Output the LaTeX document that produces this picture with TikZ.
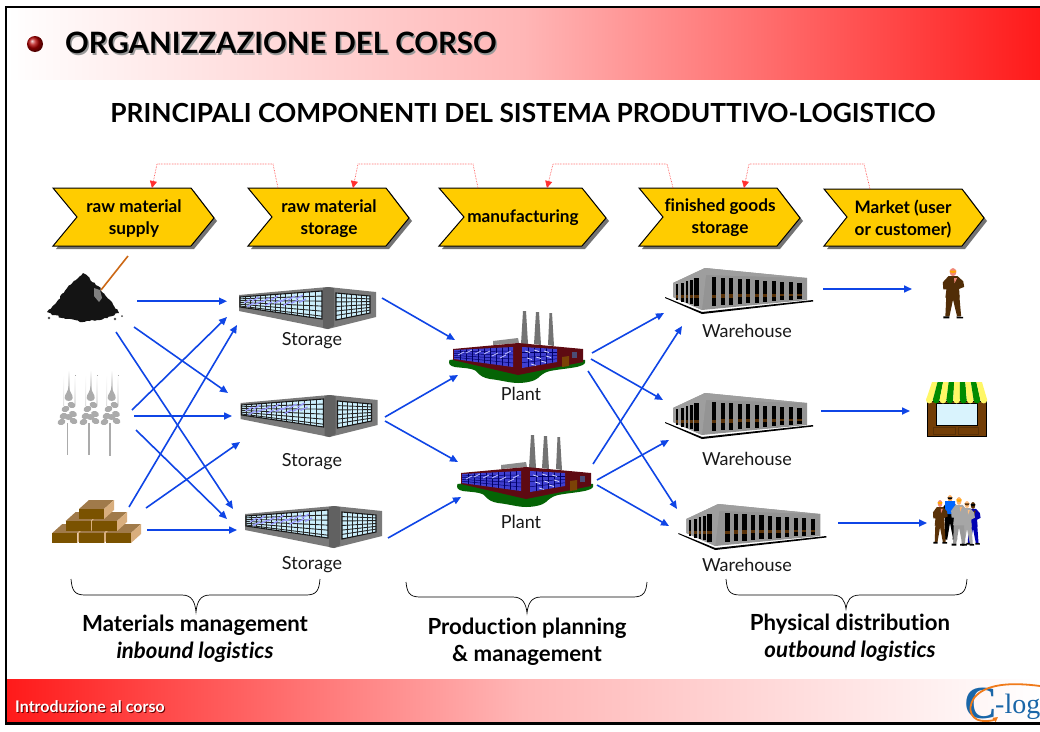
\documentclass[tikz,border=0pt]{standalone}
\usepackage{fontspec}
\setmainfont{Lato}[Ligatures=NoCommon]
\usetikzlibrary{arrows.meta,shadings,decorations.pathmorphing}
\definecolor{flowblue}{HTML}{0F45E6}
\definecolor{chev}{HTML}{FFCC00}
\definecolor{hred}{HTML}{FF1A1A}
\definecolor{hmid}{HTML}{FFB6B6}
\definecolor{linkred}{HTML}{FF3030}
\definecolor{maroon}{HTML}{5E0A12}
\definecolor{wbrown}{HTML}{5A3208}
\definecolor{logoblue}{HTML}{1A66A8}
\definecolor{logoorange}{HTML}{F07A1A}
\definecolor{brickfront}{HTML}{7A5200}
\definecolor{bricktop}{HTML}{A07A4A}
\definecolor{brickside}{HTML}{D9AE7D}
\definecolor{facepink}{HTML}{F08878}
\definecolor{plantgreen}{HTML}{056405}
\definecolor{planeblue}{HTML}{3F3FD0}
\tikzset{
  flow/.style={draw=flowblue,line width=1.6pt,-{Triangle[length=8pt,width=7pt]}},
  link/.style={draw=linkred,line width=.6pt,densely dotted,-{Triangle[length=7pt,width=7pt]}},
  chevbox/.style={fill=chev,draw=black,line width=1pt,line join=miter},
  chevshadow/.style={fill=black!55},
  chevtext/.style={font=\fontsize{17.2}{22}\selectfont\bfseries,align=center,text=black,inner sep=0pt},
  iconlabel/.style={font=\fontsize{18}{20}\selectfont,text=black!90,inner sep=0pt},
  grouplabel/.style={font=\fontsize{22.2}{27}\selectfont\bfseries,align=center,inner sep=0pt},
  bracepath/.style={draw=black,line width=.7pt},
}
\def\figw{1}
% storage building, coordinates of the first one
\newcommand{\storagebldg}[2]{%
\begin{scope}[shift={(#1,#2)}]
  \fill[black!52] (239,295)--(328,287)--(376,292)--(376,317)--(328,329)--(239,311)--cycle;
  \fill[black!62] (323,288)--(328,287)--(334,288)--(334,326)--(328,329)--(323,328)--cycle;
  \begin{scope}
    \clip (240,297)--(322,291)--(322,319)--(240,307)--cycle;
    \fill[cyan!20] (238,285) rectangle (325,322);
    \foreach \t in {0.18,0.36,0.54,0.72,0.9}
      \draw[black!85,line width=.9pt] (240,{297+10*\t})--(322,{291+28*\t});
    \foreach \x in {245,250,255,260,265,270,275,280,285,291,297,303,309,315}
      \draw[black!85,line width=.9pt] (\x,288)--(\x,320);
    \foreach \a/\b in {244/303,252/301,262/302,271/300,280/302,288/300,296/299}
      \draw[blue!40!white,line width=1.3pt] (\a,\b)--++(7,-4) (\a+3,\b+3.5)--++(7,-3.5);
  \end{scope}
  \draw[black!90,line width=1.1pt] (240,297)--(322,291)--(322,319)--(240,307)--cycle;
  \begin{scope}
    \clip (336,293)--(370,296)--(370,313)--(336,320)--cycle;
    \fill[cyan!20] (334,290) rectangle (372,322);
    \foreach \t in {0.17,0.33,0.5,0.67,0.83}
      \draw[black!85,line width=.9pt] (336,{293+27*\t})--(370,{296+17*\t});
    \foreach \x in {341,346,351,356,361,366}
      \draw[black!85,line width=.9pt] (\x,290)--(\x,322);
  \end{scope}
  \draw[black!90,line width=1.1pt] (336,293)--(370,296)--(370,313)--(336,320)--cycle;
\end{scope}}
% plant, coordinates of the first one
\newcommand{\plantbldg}[2]{%
\begin{scope}[shift={(#1,#2)}]
  \fill[plantgreen] (449.5,360) .. controls (448,364) and (450,366) .. (455,367) .. controls (462,368) and (472,368) .. (476,371) .. controls (480,376) and (484,378) .. (490,379) .. controls (500,380) and (510,383) .. (518,383) .. controls (526,383) and (535,381) .. (538,378) .. controls (541,375) and (545,372) .. (550,371) .. controls (560,369) and (575,368) .. (580,366) .. controls (584,365) and (586,363) .. (585,360) -- (518,352) -- cycle;
  \fill[black!55] (521,344)--(523,311)--(526,311)--(528,344)--cycle;
  \fill[black!55] (534,344)--(536,312)--(539,312)--(541,345)--cycle;
  \fill[black!55] (548,345)--(549.5,313)--(552,313)--(554,346)--cycle;
  \fill[black!45] (493,341)--(518,338)--(519,343)--(493,345)--cycle;
  \fill[maroon] (453,349)--(518,343)--(583,349)--(583,362)--(518,375)--(453,360)--cycle;
  \begin{scope}
    \clip (454,350)--(513,347)--(513,367)--(454,359)--cycle;
    \fill[planeblue] (450,340) rectangle (515,370);
    \foreach \t in {0.2,0.4,0.6,0.8}
      \draw[black!60!blue,line width=.5pt] (454,{350+9*\t})--(513,{347+20*\t});
    \foreach \x in {460,466,472,478,484,490,496,502,508}
      \draw[black!60!blue,line width=.5pt] (\x,345)--(\x,368);
    \foreach \a/\b in {458/355,466/353,475/354,484/354,492/356,500/358,505/354}
      \draw[white!75!blue,line width=.8pt] (\a,\b)--++(6,-3);
  \end{scope}
  \begin{scope}
    \clip (522,347)--(557,349)--(557,362)--(522,368)--cycle;
    \fill[planeblue] (520,345) rectangle (558,370);
    \foreach \t in {0.25,0.5,0.75}
      \draw[black!60!blue,line width=.5pt] (522,{347+21*\t})--(557,{349+13*\t});
    \foreach \x in {528,534,540,546,552}
      \draw[black!60!blue,line width=.5pt] (\x,345)--(\x,370);
    \foreach \a/\b in {525/351,534/350,544/351,527/358,536/357,546/356,531/364,541/361}
      \draw[white!85!blue,line width=.8pt] (\a,\b)--++(5,1.5);
  \end{scope}
  \fill[wbrown!80!orange] (562,357)--(569,356)--(569,366)--(562,367)--cycle;
  \fill[black!60!blue!40!gray] (572,352) rectangle (577,358);
\end{scope}}
% warehouse, coordinates of the first one
\newcommand{\warehousebldg}[2]{%
\begin{scope}[shift={(#1,#2)}]
  \fill[black] (665,297)--(702,312)--(813,300)--(813,301.5)--(702,314)--(665,298)--cycle;
  \fill[black!42] (673,283)--(705,268)--(807,278)--(807,300)--(702,310)--(673,297)--cycle;
  \fill[black!38] (673,283)--(705,268)--(807,278)--(706,275)--(702,310)--(673,297)--cycle;
  \foreach \i in {0,...,10}{
    \pgfmathsetmacro{\xa}{712+8.53*\i}
    \pgfmathsetmacro{\ya}{277+.6*\i}
    \pgfmathsetmacro{\yb}{306-.7*\i}
    \fill[black] (\xa,\ya) rectangle ({\xa+4.2},\yb);
    \fill[wbrown] (\xa,{294.5-.1*\i}) rectangle ({\xa+4.2},{298-.2*\i});
  }
  \foreach \a/\b/\c/\d in {675.7/678/284/300,681/684/282.5/301.5,685.7/688/281/303,690/692.7/280/304,694/699/278/306}{
    \fill[black] (\a,\c) rectangle (\b,\d);
    \fill[wbrown] (\a,294.5) rectangle (\b,298);
  }
\end{scope}}
% one standing figure: x, top y, height, jacket, trousers, hair, skin
\newcommand{\standing}[7]{%
\begin{scope}[shift={(#1,#2)},xscale=#3*\figw,yscale=#3]
  \fill[#5] (-.13,.5)--(.12,.5)--(.16,.95)--(.08,.95)--(0,.62)--(-.07,.95)--(-.15,.95)--cycle;
  \fill[black] (-.19,.95)--(-.07,.95)--(-.07,.99)--(-.19,.99)--cycle (.07,.95)--(.2,.96)--(.2,.99)--(.07,.99)--cycle;
  \fill[#4] (-.09,.16)--(.09,.16)--(.2,.26)--(.22,.37)--(.12,.41)--(.13,.58)--(-.15,.58)--(-.13,.42)--(-.19,.42)--(-.2,.28)--cycle;
  \fill[#7] (.02,.2)--(.08,.2)--(.03,.3)--cycle;
  \fill[#7] (0,.08) ellipse (.065 and .08);
  \fill[#6] (-.07,.05) arc (180:0:.07 and .05)--cycle;
\end{scope}}
% one brick: left top corner of the front face
\newcommand{\brick}[2]{%
  \fill[bricktop] (#1,#2)--++(10,-9)--++(25,0)--++(-10,9)--cycle;
  \fill[brickside] ({#1+25},#2)--++(10,-9)--++(0,10)--++(-10,9)--cycle;
  \fill[brickfront] (#1,#2) rectangle ({#1+25},{#2+10});
}
% one ear of wheat; the stalk is at x
\newcommand{\wheatear}[3]{%
\begin{scope}[shift={(#1,0)}]
  \fill[black!33] (-.5*#3,423) rectangle (.5*#3,#2);
  \fill[top color=white,bottom color=black!25] (1.1,370) rectangle (2.4,392);
  \fill[top color=white,bottom color=black!12] (-4,375) rectangle (-3,405);
  \fill[top color=white,bottom color=black!12] (7.5,375) rectangle (8.5,405);
  \fill[black!33] (1.7,386) .. controls (2,392) and (6,394) .. (5.7,398) .. controls (5.5,402) and (-2,402) .. (-2.3,398) .. controls (-2.5,394) and (1.4,392) .. (1.7,386) -- cycle;
  \foreach \a/\b/\r in {4.5/405/-20,-1.5/409/20,6/414/-20,-3.5/416/20,1.5/417/0,6.5/421/-20,-5.5/422/20}
    \fill[black!33,shift={(\a,\b)},rotate=\r] (0,0) ellipse (4 and 3);
\end{scope}}
\begin{document}
\begin{tikzpicture}[x=1pt,y=-1pt]
\useasboundingbox (0,0) rectangle (1040,731);
\fill[white] (0,0) rectangle (1040,731);
% header and footer bands
\fill[left color=white,right color=hred,middle color=hmid] (7,8) rectangle (1040,79);
\fill[left color=hred,right color=white,middle color=hmid] (7,679) rectangle (1040,722);
\draw[black,line width=2.4pt] (1040,7)--(6,7)--(6,723.5)--(1040,723.5);
% bullet
\shade[ball color=red!70!black] (35,44) circle (8);
% titles
\node[anchor=west,inner sep=0pt,text=black!40,font=\fontsize{29.4}{30}\selectfont\bfseries] (titleshade) at (66.5,44.5) {ORGANIZZAZIONE DEL CORSO};
\node[anchor=west,inner sep=0pt,font=\fontsize{29.4}{30}\selectfont\bfseries] (title) at (65,43) {ORGANIZZAZIONE DEL CORSO};
\node[inner sep=0pt,font=\fontsize{26.3}{28}\selectfont\bfseries] (subtitle) at (523,113) {PRINCIPALI COMPONENTI DEL SISTEMA PRODUTTIVO-LOGISTICO};
% chevrons
\foreach \a/\b/\c/\d/\ty in {53/191/214/77/188,248/386/409/272/188,439/582/606/464/188,639/777/800/663/188,824/962/984/847/189}{
  \fill[chevshadow] (\a+3,\ty+3)--(\b+3,\ty+3)--(\c+3,218+3)--(\b+3,246+3)--(\a+3,246+3)--(\d+3,217+3)--cycle;
  \path[chevbox] (\a,\ty)--(\b,\ty)--(\c,218)--(\b,246)--(\a,246)--(\d,217)--cycle;
}
\node[chevtext] (c1) at (134,219) {raw material\\supply};
\node[chevtext] (c2) at (329,219) {raw material\\storage};
\node[chevtext] (c3) at (523,218) {manufacturing};
\node[chevtext] (c4) at (720,218) {finished goods\\storage};
\node[chevtext] (c5) at (903,219) {Market (user\\or customer)};
% feedback links
\foreach \n/\a/\b/\c/\d/\e in {1/278/273/157/152/188,2/478/473/358/353/188,3/673/667/553/547/188,4/870/864/749/744/189}{
  \coordinate (ls\n) at (\a,\e);
  \coordinate (lt\n) at (\d,188);
  \draw[link] (ls\n)--(\b,164)--(\c,164)--(lt\n);
}
% raw material icons
\draw[logoorange!85!black,line width=1.6pt] (101,290)--(128,256);
\fill[black!92,decorate,decoration={random steps,segment length=2.5pt,amplitude=1pt}] (83,273)--(98,286)--(110,300)--(119,313)--(100,320)--(83,322)--(62,318)--(47,312)--(58,300)--(70,285)--cycle;
\fill[black!50] (94,288)--(100,290)--(102,298)--(99,302)--(94,296)--cycle;
\fill[black!70] (49,318) circle (1.3) (115,319) circle (1.3) (122,316) circle (1);
\wheatear{67}{455}{1}
\wheatear{89}{455}{2}
\wheatear{110}{456}{2}
\brick{52.3}{533}\brick{79}{533}\brick{106}{533}
\brick{65.7}{521}\brick{92}{521}
\brick{79}{509}
% buildings
\storagebldg{0}{0}
\storagebldg{1.5}{108}
\storagebldg{6}{219}
\plantbldg{0}{0}
\plantbldg{8}{124}
\warehousebldg{0}{0}
\warehousebldg{0}{125}
\warehousebldg{13.3}{236}
% customers
\standing{953}{268}{51}{wbrown!90!black}{wbrown!90!black}{orange!70!yellow}{facepink}
% shop
\fill[wbrown!85!orange] (927,401) rectangle (986,436);
\draw[black,line width=.8pt] (927,401) rectangle (986,436);
\fill[cyan!15] (936,403) rectangle (977,425);
\draw[black,line width=.7pt] (936,403) rectangle (977,425);
\draw[wbrown,line width=.7pt] (933,427.5) rectangle (955,434) (958,427.5) rectangle (978,434);
\foreach \i/\c in {0/yellow!60!white,1/green!55!black,2/yellow!60!white,3/green!55!black,4/yellow!60!white,5/green!55!black,6/yellow!60!white,7/green!55!black,8/yellow!60!white}{
  \pgfmathsetmacro{\ta}{932+5.55*\i}
  \pgfmathsetmacro{\ba}{926+6.8*\i}
  \fill[\c] (\ta,382)--({\ta+5.55},382)--({\ba+6.8},400)--(\ba,400)--cycle;
  \fill[\c] ({\ba+3.4},400) circle (3.4);
}
% group
\def\figw{.8}
\standing{950}{495}{45}{black}{black}{black}{orange!60!white}
\fill[blue!60!cyan] (945,501)--(955,501)--(956,514)--(945,514)--cycle;
\standing{940}{500}{44}{wbrown}{wbrown}{orange!70!yellow}{facepink}
\standing{973}{502}{43}{blue!70!black}{blue!70!black}{black}{wbrown}
\standing{967}{501}{45}{black!35}{black!35}{wbrown}{orange!50!white}
\standing{959}{497}{49}{black!35}{black!40}{orange!70!yellow}{orange!60!white}
% icon labels
\node[iconlabel] (s1) at (312,340.5) {Storage};
\node[iconlabel] (s2) at (312,461.5) {Storage};
\node[iconlabel] (s3) at (312,564.5) {Storage};
\node[iconlabel] (p1) at (521,394) {Plant};
\node[iconlabel] (p2) at (521,522) {Plant};
\node[iconlabel] (w1) at (747,331) {Warehouse};
\node[iconlabel] (w2) at (747,459) {Warehouse};
\node[iconlabel] (w3) at (747,565) {Warehouse};
% flows
\foreach \n/\a/\b/\c/\d in {1/137/301.2/227/301.2,2/134/327/228/393,3/116/332/233/509,4/132/410/227/317,5/134/416/232/416,6/136/430/227/519,7/129/507/237/325,8/146/508/240/442,9/147/530/237/530,10/382/298/455/340,11/385/417/458/375,12/385/421/458/462,13/388/538/461/497,14/592/353/664/313,15/591/359/663/400,16/588/371/677/509,17/593/464/682/326,18/597/480/669/440,19/597/485/669/526,20/823/289/912/289,21/821/411/910/411,22/838/523/927/523}{
  \coordinate (fs\n) at (\a,\b);
  \coordinate (ft\n) at (\c,\d);
  \draw[flow] (fs\n)--(ft\n);
}
% braces
\draw[bracepath] (71,579) .. controls (72,590) and (74,595) .. (85,595) -- (182,595) .. controls (192,595) and (195,602) .. (196,612) .. controls (197,602) and (200,595) .. (210,595) -- (306,595) .. controls (317,595) and (319,590) .. (320,579);
\draw[bracepath] (406,582) .. controls (407,592) and (409,597) .. (420,597) -- (513,597) .. controls (523,597) and (526,604) .. (527,613) .. controls (528,604) and (531,597) .. (541,597) -- (633,597) .. controls (644,597) and (646,592) .. (647,582);
\draw[bracepath] (726,579) .. controls (727,590) and (729,595) .. (740,595) -- (832,595) .. controls (842,595) and (845,601) .. (846,609) .. controls (847,601) and (850,595) .. (860,595) -- (953,595) .. controls (964,595) and (966,590) .. (967,579);
\node[grouplabel] (g1) at (195,638.5) {Materials management\\\textit{inbound logistics}};
\node[grouplabel] (g2) at (527,641.5) {Production planning\\\& management};
\node[grouplabel] (g3) at (850,637.5) {Physical distribution\\\textit{outbound logistics}};
% footer
\node[anchor=west,inner sep=0pt,text=black!60!red,font=\fontsize{16}{16}\selectfont\bfseries] (footshade) at (16,708) {Introduzione al corso};
\node[anchor=west,inner sep=0pt,text=white,font=\fontsize{16}{16}\selectfont\bfseries] (foot) at (15,707) {Introduzione al corso};
% logo
\node[inner sep=0pt,text=logoblue,font=\fontsize{46}{46}\selectfont\fontspec{Liberation Serif}\bfseries] (logoc) at (981,703) {C};
\node[anchor=west,inner sep=0pt,text=logoblue,font=\fontsize{28}{28}\selectfont\fontspec{Liberation Serif}] (logot) at (995,707) {-log};
\draw[logoorange,line width=1.8pt,-{Triangle[length=5pt,width=5pt]}] (1040,686) .. controls (1010,682) and (985,684) .. (974,698) .. controls (966,710) and (972,722) .. (986,721) .. controls (991,721) and (994,720) .. (998,717);
\end{tikzpicture}
\end{document}
